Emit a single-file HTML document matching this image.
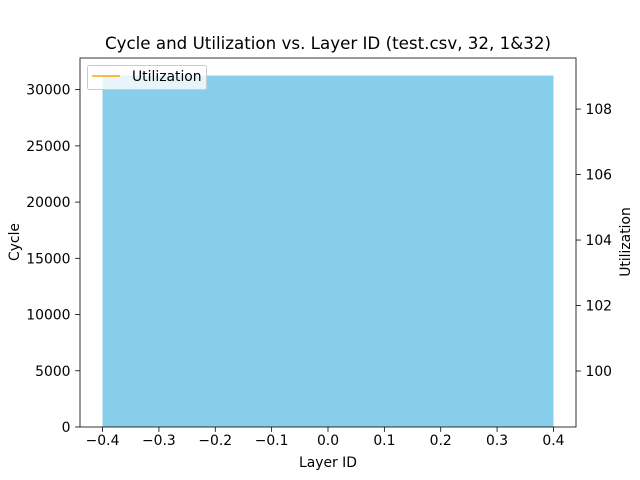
<!DOCTYPE html>
<html><head><meta charset="utf-8">
<style>
body{margin:0;background:#fff;}
svg{display:block;font-family:"DejaVu Sans","Liberation Sans",sans-serif;}
</style></head>
<body>
<svg id="chart" width="640" height="480" xmlns="http://www.w3.org/2000/svg"></svg>
<script>
const categories = [0];
const cycleValues = [31250];
const utilValues = [103.9];
const xTicks = [-0.4,-0.3,-0.2,-0.1,0.0,0.1,0.2,0.3,0.4];
const yTicks = [0,5000,10000,15000,20000,25000,30000];
const y2Ticks = [100,102,104,106,108];

const L=80,R=576,T=58,B=427;
const xMin=-0.44,xMax=0.44,yMin=0,yMax=32812.5,y2Min=98.29,y2Max=109.56;
const sx=v=>L+(v-xMin)/(xMax-xMin)*(R-L);
const sy=v=>B-(v-yMin)/(yMax-yMin)*(B-T);
const sy2=v=>B-(v-y2Min)/(y2Max-y2Min)*(B-T);
const svg=document.getElementById('chart');
const NS='http://www.w3.org/2000/svg';
function mk(tag,attrs,parent){const e=document.createElementNS(NS,tag);for(const k in attrs)e.setAttribute(k,attrs[k]);(parent||svg).appendChild(e);return e;}

categories.forEach((c,i)=>{
  const r=mk('rect',{x:sx(c-0.4),y:sy(cycleValues[i]),width:sx(c+0.4)-sx(c-0.4),height:sy(0)-sy(cycleValues[i]),fill:'#87ceeb'});
  
  
});
const pts=categories.map((c,i)=>sx(c)+','+sy2(utilValues[i])).join(' ');
const pl=mk('polyline',{points:pts,fill:'none',stroke:'orange','stroke-width':1.5});



mk('rect',{x:L,y:T,width:R-L,height:B-T,fill:'none',stroke:'#000','stroke-width':0.8});

xTicks.forEach(v=>{
  const x=sx(v);
  mk('line',{x1:x,y1:B,x2:x,y2:B+4.9,stroke:'#000','stroke-width':0.8});
  const t=mk('text',{x:x,y:B+18,'font-size':13.9,'text-anchor':'middle'});
  t.textContent=(v<0?'\u2212':'')+Math.abs(v).toFixed(1);
  
  
});
yTicks.forEach(v=>{
  const y=sy(v);
  mk('line',{x1:L,y1:y,x2:L-4.9,y2:y,stroke:'#000','stroke-width':0.8});
  const t=mk('text',{x:L-9.5,y:y+5,'font-size':13.9,'text-anchor':'end'});
  t.textContent=v;
  
  
});
y2Ticks.forEach(v=>{
  const y=sy2(v);
  mk('line',{x1:R,y1:y,x2:R+4.9,y2:y,stroke:'#000','stroke-width':0.8});
  const t=mk('text',{x:R+9.5,y:y+5,'font-size':13.9,'text-anchor':'start'});
  t.textContent=v;
  
  
});
</script>
<svg style="position:absolute;left:0;top:0" width="640" height="480" xmlns="http://www.w3.org/2000/svg">
<text x="328" y="49" font-size="16.7" text-anchor="middle" font-family="DejaVu Sans, Liberation Sans, sans-serif">Cycle and Utilization vs. Layer ID (test.csv, 32, 1&amp;32)</text>
<text x="328" y="467" font-size="13.9" text-anchor="middle" font-family="DejaVu Sans, Liberation Sans, sans-serif">Layer ID</text>
<text x="0" y="0" font-size="13.9" text-anchor="middle" transform="translate(19,242) rotate(-90)" font-family="DejaVu Sans, Liberation Sans, sans-serif">Cycle</text>
<text x="0" y="0" font-size="13.9" text-anchor="middle" transform="translate(630,242) rotate(-90)" font-family="DejaVu Sans, Liberation Sans, sans-serif">Utilization</text>
<g>
<rect x="87.5" y="65.5" width="119" height="24" rx="2" fill="rgba(255,255,255,0.8)" stroke="#ccc" stroke-width="1"/>
<line x1="92" y1="76" x2="120" y2="76" stroke="orange" stroke-width="1.5"/>
<text x="132" y="81" font-size="13.9" font-family="DejaVu Sans, Liberation Sans, sans-serif">Utilization</text>
</g>
</svg>
</body></html>
